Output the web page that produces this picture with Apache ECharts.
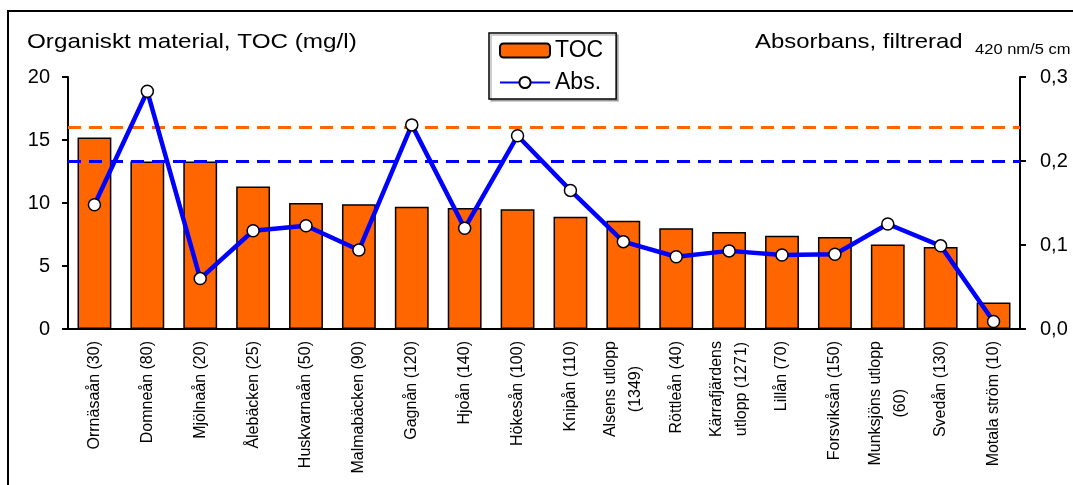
<!DOCTYPE html>
<html>
<head>
<meta charset="utf-8">
<script src="https://cdn.jsdelivr.net/npm/echarts@6/dist/echarts.min.js"></script>
<style>html,body{margin:0;padding:0;background:#fff}#c{width:1073px;height:485px}</style>
</head>
<body>
<div id="c"></div>
<script>
const categories = ['Orrnäsaån (30)', 'Domneån (80)', 'Mjölnaån (20)', 'Ålebäcken (25)', 'Huskvarnaån (50)', 'Malmabäcken (90)', 'Gagnån (120)', 'Hjoån (140)', 'Hökesån (100)', 'Knipån (110)', 'Alsens utlopp\n(1349)', 'Röttleån (40)', 'Kärrafjärdens\nutlopp (1271)', 'Lillån (70)', 'Forsviksån (150)', 'Munksjöns utlopp\n(60)', 'Svedån (130)', 'Motala ström (10)'];
const tocValues = [15.2, 13.3, 13.3, 11.3, 10.0, 9.9, 9.7, 9.6, 9.5, 8.9, 8.6, 8.0, 7.7, 7.4, 7.3, 6.7, 6.5, 2.1];
const absValues = [0.148, 0.283, 0.060, 0.117, 0.123, 0.094, 0.243, 0.120, 0.230, 0.165, 0.104, 0.086, 0.093, 0.088, 0.089, 0.125, 0.099, 0.009];
const tocLimit = 16;
const absLimit = 0.204;
const leftTitle = 'Organiskt material, TOC (mg/l)';
const rightTitle = 'Absorbans, filtrerad';
const rightSub = '420 nm/5 cm';

const FONT = 'Liberation Sans, Arial, sans-serif';
const chart = echarts.init(document.getElementById('c'), null, {renderer: 'canvas'});
chart.setOption({
  animation: false,
  backgroundColor: '#fff',
  textStyle: {fontFamily: FONT},
  grid: {left: 68, right: 53, top: 77, bottom: 156, containLabel: false},
  legend: {
    orient: 'vertical', left: 489, top: 33,
    padding: [6, 13, 5, 10], itemGap: 9,
    itemWidth: 50, itemHeight: 14,
    borderColor: '#000', borderWidth: 1.5, backgroundColor: '#fff',
    shadowColor: 'rgba(0,0,0,0.25)', shadowOffsetX: 2, shadowOffsetY: 2, shadowBlur: 0,
    textStyle: {fontSize: 23, color: '#000', fontFamily: FONT},
    data: ['TOC', 'Abs.']
  },
  graphic: [
    {type: 'rect', shape: {x: 8, y: 11, width: 1100, height: 500}, style: {fill: 'none', stroke: '#000', lineWidth: 2}, silent: true, z: -10},
    {type: 'text', x: 27, y: 42, scaleX: 1.155, style: {text: leftTitle, font: '21px ' + FONT, fill: '#000', textVerticalAlign: 'middle'}},
    {type: 'text', x: 755, y: 42, scaleX: 1.14, style: {text: rightTitle, font: '21px ' + FONT, fill: '#000', textVerticalAlign: 'middle'}},
    {type: 'text', x: 975, y: 50, scaleX: 1.18, style: {text: rightSub, font: '14px ' + FONT, fill: '#000', textVerticalAlign: 'middle'}}
  ],
  xAxis: {
    type: 'category', data: categories,
    axisLine: {lineStyle: {color: '#000', width: 2}},
    axisTick: {show: false},
    axisLabel: {
      interval: 0, rotate: 90, margin: 12, color: '#000',
      formatter: function (v) { return v.split('\n').map(function (s) { return '{c|' + s + '}'; }).join('\n'); },
      rich: {c: {align: 'center', fontSize: 16, lineHeight: 25, color: '#000', fontFamily: FONT}}
    }
  },
  yAxis: [
    {
      type: 'value', min: 0, max: 20, interval: 5, position: 'left',
      axisLine: {show: true, lineStyle: {color: '#000', width: 2}},
      axisTick: {show: true, length: 6, lineStyle: {color: '#000', width: 2}},
      axisLabel: {fontSize: 20, color: '#000', margin: 18, fontFamily: FONT},
      splitLine: {show: false}
    },
    {
      type: 'value', min: 0, max: 0.3, interval: 0.1, position: 'right',
      axisLine: {show: true, lineStyle: {color: '#000', width: 2}},
      axisTick: {show: true, length: 6, lineStyle: {color: '#000', width: 2}},
      axisLabel: {fontSize: 20, color: '#000', margin: 20, fontFamily: FONT,
        formatter: function (v) { return v.toFixed(1).replace('.', ','); }},
      splitLine: {show: false}
    }
  ],
  series: [
    {
      name: 'TOC', type: 'bar', data: tocValues, yAxisIndex: 0,
      barWidth: '64%',
      itemStyle: {color: '#FF6600', borderColor: '#000', borderWidth: 1.5},
      markLine: {
        silent: true, symbol: 'none', label: {show: false},
        lineStyle: {color: '#FF6600', type: [13, 8], width: 3},
        data: [{yAxis: tocLimit}]
      }
    },
    {
      name: 'Abs.', type: 'line', data: absValues, yAxisIndex: 1,
      symbol: 'circle', symbolSize: 12,
      lineStyle: {color: '#0000FF', width: 4.5},
      itemStyle: {color: '#fff', borderColor: '#000', borderWidth: 1.5},
      z: 5,
      markLine: {
        silent: true, symbol: 'none', label: {show: false},
        lineStyle: {color: '#0000FF', type: [13, 8], width: 3},
        data: [{yAxis: absLimit}]
      }
    }
  ]
});
</script>
</body>
</html>
